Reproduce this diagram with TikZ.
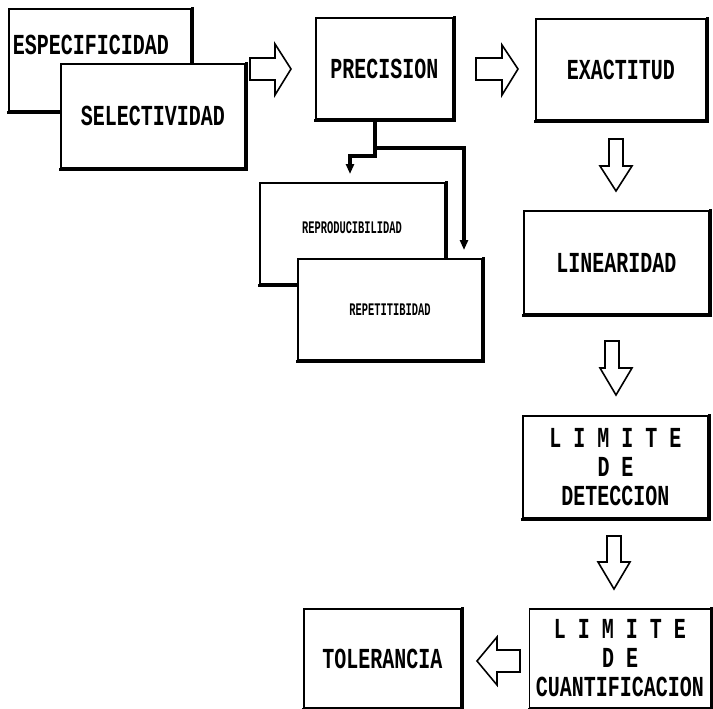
\documentclass[tikz,border=0pt]{standalone}
\usepackage{fontspec}
\setmonofont{Liberation Mono}
\usetikzlibrary{arrows.meta}
\newcommand{\bigt}[1]{\scalebox{1}[1.45]{\ttfamily\bfseries #1}}
\newcommand{\smallt}[1]{\scalebox{1}[1.7]{\ttfamily\bfseries\fontsize{10.4}{12}\selectfont #1}}
\newcommand{\shadowof}[1]{\draw[shadowline] ([shift={(1.4,0)}]#1.north east) -- ([shift={(1.4,1.4)}]#1.south east) -- ([shift={(0,1.4)}]#1.south west);}
\tikzset{
  box/.style={draw, fill=white, line width=1.7pt, rectangle, inner sep=0pt, outer sep=0pt,
    align=center, font=\fontsize{20}{29}\selectfont},
  shadowline/.style={line width=3.4pt, line cap=rect},
  hollow/.style={draw, fill=white, line width=1.6pt, line join=miter},
  conn/.style={line width=3.6pt, -{Triangle[width=8pt,length=10pt]}}
}
\begin{document}
\begin{tikzpicture}[x=1pt,y=-1pt]
\useasboundingbox (0,0) rectangle (713,709);
\fill[white] (0,0) rectangle (713,709);

% ESPECIFICIDAD / SELECTIVIDAD
\node[box, minimum width=182, minimum height=102] (esp) at (100,60) {};
\shadowof{esp}
\node[font=\fontsize{20}{29}\selectfont, inner sep=0pt] (espt) at (91,45) {\bigt{ESPECIFICIDAD}};
\node[box, minimum width=184, minimum height=104] (sel) at (153,116) {\bigt{SELECTIVIDAD}};
\shadowof{sel}

% PRECISION
\node[box, minimum width=137, minimum height=101] (pre) at (384.5,68.5) {\bigt{PRECISION}};
\shadowof{pre}

% EXACTITUD
\node[box, minimum width=170, minimum height=101] (exa) at (621,69.5) {\bigt{EXACTITUD}};
\shadowof{exa}

% LINEARIDAD
\node[box, minimum width=185, minimum height=103] (lin) at (616.5,262.5) {\bigt{LINEARIDAD}};
\shadowof{lin}

% LIMITE DE DETECCION
\node[box, minimum width=185, minimum height=102] (det) at (615.5,467)
  {\bigt{L I M I T E}\\\bigt{D E}\\\bigt{DETECCION}};
\shadowof{det}

% LIMITE DE CUANTIFICACION
\node[box, minimum width=181, minimum height=99] (cua) at (620,658.5)
  {\bigt{L I M I T E}\\\bigt{D E}\\\bigt{CUANTIFICACION}};
\shadowof{cua}

% TOLERANCIA
\node[box, minimum width=157, minimum height=99] (tol) at (382.5,658.5) {\bigt{TOLERANCIA}};
\shadowof{tol}

% REPRODUCIBILIDAD / REPETITIBIDAD
\node[box, minimum width=185, minimum height=101] (rep) at (352.5,233.5) {};
\shadowof{rep}
\node[inner sep=0pt] (rept) at (352,228) {\smallt{REPRODUCIBILIDAD}};
\node[box, minimum width=184, minimum height=101] (ret) at (390,309.5) {\smallt{REPETITIBIDAD}};
\shadowof{ret}

% hollow arrows
\draw[hollow] (250,58) -- (275,58) -- (275,44) -- (291,69) -- (275,95) -- (275,80) -- (250,80) -- cycle;
\draw[hollow] (476,58) -- (502,58) -- (502,45) -- (518,69) -- (502,95) -- (502,80) -- (476,80) -- cycle;
\draw[hollow] (609,139) -- (623,139) -- (623,166) -- (632,166) -- (616,191) -- (600,166) -- (609,166) -- cycle;
\draw[hollow] (605,341) -- (619,341) -- (619,368) -- (632,368) -- (616,395) -- (600,368) -- (605,368) -- cycle;
\draw[hollow] (607,536) -- (621,536) -- (621,562) -- (630,562) -- (614,589) -- (598,562) -- (607,562) -- cycle;
\draw[hollow] (520,650) -- (497,650) -- (497,637) -- (477,661) -- (497,685) -- (497,672) -- (520,672) -- cycle;

% connectors from PRECISION
\coordinate (ca) at (375,156);
\coordinate (cb) at (350,156);
\coordinate (cc) at (375,148);
\coordinate (cd) at (464,148);
\draw[conn, shorten >=9pt] (pre.south -| ca) -- (ca) -- (cb) -- (cb |- rep.north);
\draw[conn, shorten >=9pt] (cc) -- (cd) -- (cd |- ret.north);
\end{tikzpicture}
\end{document}
